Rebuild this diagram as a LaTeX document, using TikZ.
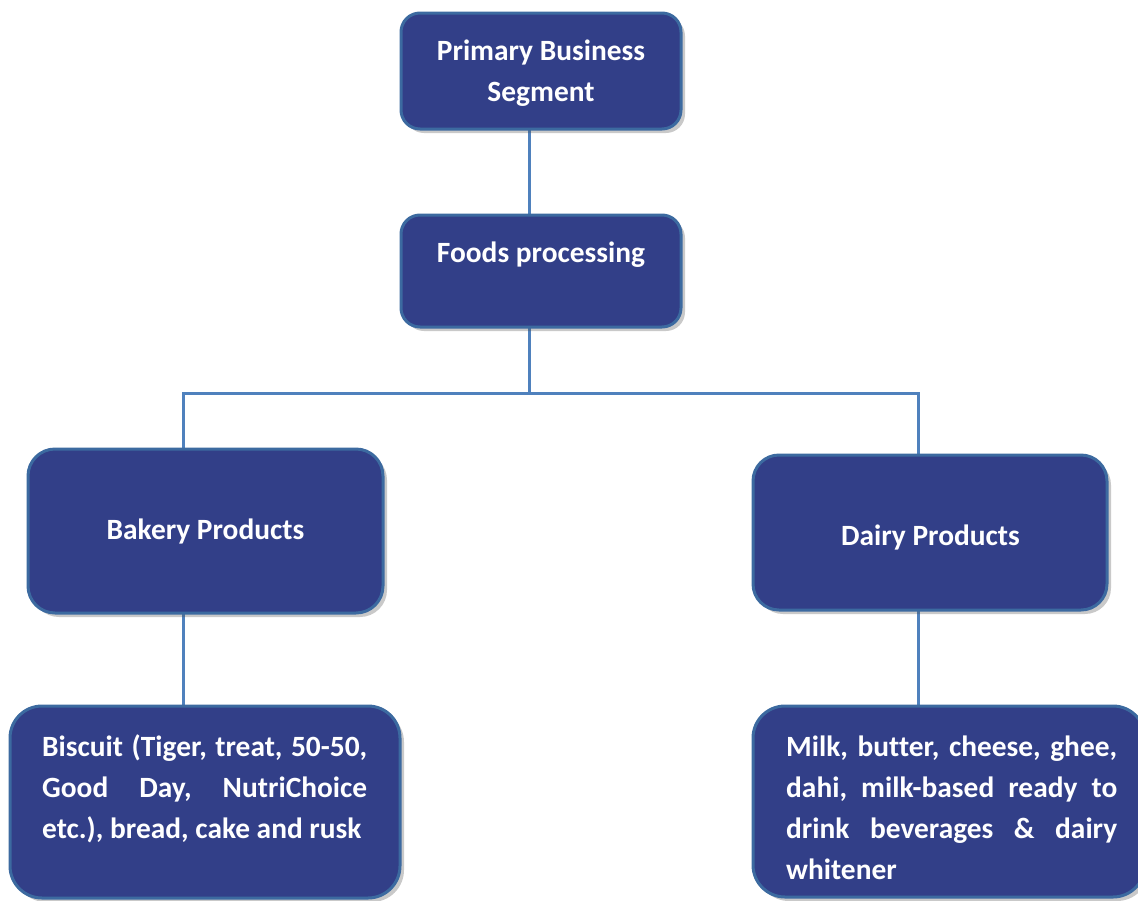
\documentclass[tikz,border=0pt]{standalone}
\usepackage{fontspec}
\setmainfont{Carlito}[Ligatures=NoCommon]
\usetikzlibrary{shadows,backgrounds}
\definecolor{boxfill}{RGB}{50,63,136}
\definecolor{boxline}{RGB}{60,106,160}
\definecolor{connclr}{RGB}{79,129,189}
\newcommand{\jline}[2]{\leavevmode\hbox to #1{#2}}
\begin{document}
\begin{tikzpicture}[x=1pt,y=-1pt,
  box/.style={draw=boxline, line width=3pt, fill=boxfill, inner sep=0pt, outer sep=0pt, rounded corners=#1,
    drop shadow={shadow xshift=4pt, shadow yshift=-4pt, opacity=0.3, fill=black!70}},
  lbl/.style={text=white, font=\bfseries\fontsize{29.4}{41}\selectfont, inner sep=0pt},
  connector/.style={draw=connclr, line width=3pt}]
\useasboundingbox (0,0) rectangle (1138,900);
\clip (0,0) rectangle (1138,900);
% boxes
\node[box=19pt, minimum width=280pt, minimum height=116pt] (prim) at (541,71) {};
\node[box=19pt, minimum width=280pt, minimum height=112pt] (foods) at (541,271) {};
\node[box=27pt, minimum width=355pt, minimum height=164pt] (bak) at (205.5,531) {};
\node[box=26pt, minimum width=354pt, minimum height=155pt] (dairy) at (930,532.5) {};
\node[box=32pt, minimum width=390pt, minimum height=192pt] (bisc) at (205,802) {};
\node[box=32pt, minimum width=392pt, minimum height=191pt] (milk) at (949,801.5) {};
% connectors
\begin{pgfonlayer}{background}
\draw[connector] ([xshift=-12pt]prim.south) -- ([xshift=-12pt]foods.north);
\draw[connector] ([xshift=-12pt]foods.south) -- ++(0,66);
\draw[connector] ([xshift=-22.5pt]bak.north) -- ++(0,-56) -| ([xshift=-12pt]dairy.north);
\draw[connector] ([xshift=-22.5pt]bak.south) -- ([xshift=-22pt]bisc.north);
\draw[connector] ([xshift=-12pt]dairy.south) -- ([xshift=-31pt]milk.north);
\end{pgfonlayer}
% texts
\node[lbl, text width=260pt, align=flush center, anchor=base] (primt) at (541,60) {Primary Business\\Segment};
\node[lbl, anchor=base] (foodst) at (541,262) {Foods processing};
\node[lbl, anchor=base] (bakt) at (205.5,539) {Bakery Products};
\node[lbl, anchor=base] (dairyt) at (930.5,545) {Dairy Products};
\node[lbl, text width=340pt, align=flush left, anchor=base west] (bisct) at (42,756)
  {\jline{325pt}{Biscuit\hfill (Tiger,\hfill treat,\hfill 50-50,}\\
   \jline{325pt}{Good\hfill Day,\hfill NutriChoice}\\
   etc.), bread, cake and rusk};
\node[lbl, text width=340pt, align=flush left, anchor=base west] (milkt) at (786,756)
  {\jline{331pt}{Milk,\hfill butter,\hfill cheese,\hfill ghee,}\\
   \jline{331pt}{dahi,\hfill milk-based\hfill ready\hfill to}\\
   \jline{331pt}{drink\hfill beverages\hfill \&\hfill dairy}\\
   whitener};
\end{tikzpicture}
\end{document}
